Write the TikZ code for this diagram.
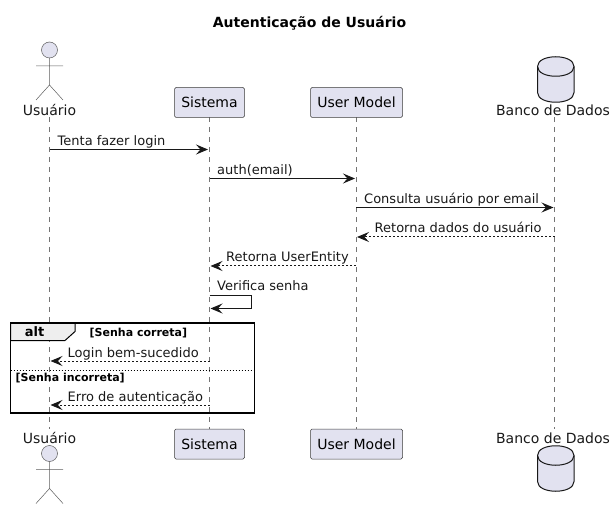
\documentclass[tikz,border=0pt]{standalone}
\usepackage{fontspec}
\setmainfont{DejaVu Sans}
\usepackage{tikz}
\usetikzlibrary{arrows.meta}

\definecolor{partfill}{HTML}{E2E2F0}
\definecolor{partline}{HTML}{181818}
\definecolor{tabfill}{HTML}{EEEEEE}

\tikzset{
    part/.style={draw=partline!85,fill=partfill,rounded corners=1.5pt,line width=0.5pt,minimum height=30pt,inner sep=0pt,font=\fontsize{14}{14}\selectfont},
    partname/.style={inner sep=0pt,text=partline,font=\fontsize{14}{14}\selectfont},
    lifeline/.style={draw=partline!60,line width=0.5pt,dash pattern=on 5pt off 5pt},
    msg/.style={draw=partline,line width=1pt,-{Stealth[length=12pt,width=10pt,inset=4.5pt]}},
    reply/.style={msg,dash pattern=on 2pt off 2pt},
    lbl/.style={anchor=base west,inner sep=0pt,text=partline,font=\fontsize{13}{13}\selectfont},
    guard/.style={anchor=base west,inner sep=0pt,text=black,font=\fontsize{11}{11}\bfseries\selectfont},
}

\begin{document}
\begin{tikzpicture}[x=1pt,y=-1pt]
        \useasboundingbox (0,0) rectangle (615,510);

        \node[anchor=base,inner sep=0pt,font=\fontsize{14}{14}\bfseries\selectfont] (title) at (309.5,28) {Autenticação de Usuário};

        % lifelines
        \coordinate (ut) at (49.5,117);
        \coordinate (ub) at (49.5,429);
        \coordinate (st) at (209.5,117);
        \coordinate (sb) at (209.5,429);
        \coordinate (mt) at (356,117);
        \coordinate (mb) at (356,429);
        \coordinate (bt) at (554.5,117);
        \coordinate (bb) at (554.5,429);
        \draw[lifeline] (ut) -- (ub);
        \draw[lifeline] (st) -- (sb);
        \draw[lifeline] (mt) -- (mb);
        \draw[lifeline] (bt) -- (bb);

        % participants
        \node[part,minimum width=70pt] (sys1) at (209.5,102.5) {Sistema};
        \node[part,minimum width=92pt] (model1) at (356.5,102.5) {User Model};
        \node[part,minimum width=70pt] (sys2) at (209.5,444) {Sistema};
        \node[part,minimum width=92pt] (model2) at (356.5,444) {User Model};

        \node[partname] (user1) at (49.5,110) {Usuário};
        \node[partname] (user2) at (49.5,438) {Usuário};
        \node[partname] (bank1) at (553,110.5) {Banco de Dados};
        \node[partname] (bank2) at (553,438.5) {Banco de Dados};

        % actors
        \foreach \y in {50,453.5} {
            \draw[partline!70,line width=0.5pt,fill=partfill] (49.5,\y) circle (8);
            \draw[partline!70,line width=0.5pt] (49.5,\y+8) -- (49.5,\y+35) (36,\y+16) -- (63,\y+16)
                (36,\y+50) -- (49.5,\y+35) -- (63,\y+50);
        }

        % databases
        \foreach \y in {56.5,445.5} {
            \draw[partline,line width=1pt,fill=partfill] (537.5,\y+10) .. controls (537.5,\y-3) and (574,\y-3) .. (574,\y+10)
                -- (574,\y+36) .. controls (574,\y+49) and (537.5,\y+49) .. (537.5,\y+36) -- cycle;
            \draw[partline,line width=1pt] (537.5,\y+10) .. controls (537.5,\y+23) and (574,\y+23) .. (574,\y+10);
        }

        % messages
        \coordinate (m1a) at (49.5,149.5);
        \coordinate (m1b) at (208,149.5);
        \coordinate (m2a) at (209.5,178.5);
        \coordinate (m2b) at (355,178.5);
        \coordinate (m3a) at (356,207.5);
        \coordinate (m3b) at (553.5,207.5);
        \coordinate (m4a) at (554.5,237);
        \coordinate (m4b) at (357,237);
        \coordinate (m5a) at (356,266);
        \coordinate (m5b) at (210.5,266);
        \coordinate (m6a) at (209.5,295.5);
        \coordinate (m6b) at (251,295.5);
        \coordinate (m6c) at (251,308.5);
        \coordinate (m6d) at (210.5,308.5);
        \coordinate (m7a) at (209.5,361);
        \coordinate (m7b) at (50.5,361);
        \coordinate (m8a) at (209.5,405);
        \coordinate (m8b) at (50.5,405);

        \draw[msg] (m1a) -- (m1b);
        \draw[msg] (m2a) -- (m2b);
        \draw[msg] (m3a) -- (m3b);
        \draw[reply] (m4a) -- (m4b);
        \draw[reply] (m5a) -- (m5b);
        \draw[msg] (m6a) -- (m6b) -- (m6c) -- (m6d);

        \node[lbl] (l1) at (57.5,145.5) {Tenta fazer login};
        \node[lbl] (l2) at (217,174.5) {auth(email)};
        \node[lbl] (l3) at (364,203.5) {Consulta usuário por email};
        \node[lbl] (l4) at (374.5,232.5) {Retorna dados do usuário};
        \node[lbl] (l5) at (226,261.5) {Retorna UserEntity};
        \node[lbl] (l6) at (217,290.5) {Verifica senha};

        % alt frame
        \coordinate (f1) at (10.5,323);
        \coordinate (f2) at (254.5,413);
        \coordinate (d1) at (10.5,370);
        \coordinate (d2) at (254.5,370);
        \draw[fill=tabfill,draw=black,line width=1pt] (10.5,323) -- (75,323) -- (75,331.5) -- (65,340.5) -- (10.5,340.5) -- cycle;
        \draw[black,line width=1.8pt] (f1) rectangle (f2);
        \draw[black,line width=0.5pt,dash pattern=on 1.5pt off 1.5pt] (d1) -- (d2);
        \node[anchor=base,inner sep=0pt,font=\fontsize{13}{13}\bfseries\selectfont] (alt) at (34.5,336.5) {alt};
        \node[guard] (g1) at (89.5,336) {[Senha correta]};
        \node[guard] (g2) at (15.5,381.5) {[Senha incorreta]};

        \draw[reply] (m7a) -- (m7b);
        \draw[reply] (m8a) -- (m8b);
        \node[lbl] (l7) at (67.5,357.5) {Login bem-sucedido};
        \node[lbl] (l8) at (67.5,401.5) {Erro de autenticação};
\end{tikzpicture}
\end{document}
